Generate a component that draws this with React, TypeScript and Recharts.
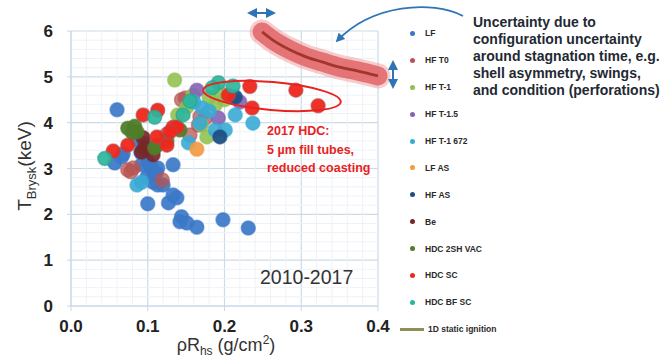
import React from 'react';
import {
  ComposedChart, Scatter, Line, XAxis, YAxis, CartesianGrid, ReferenceLine,
} from 'recharts';

// shot data (x = rho R_hs in g/cm2, y = T_Brysk in keV)
const lfX = [0.060, 0.057, 0.066, 0.068, 0.092, 0.100, 0.106, 0.113, 0.099, 0.107, 0.113, 0.120, 0.133, 0.100, 0.127, 0.133, 0.138, 0.144, 0.142, 0.151, 0.164, 0.198, 0.231, 0.091, 0.095, 0.086, 0.104, 0.111];
const lfY = [4.28, 3.12, 3.25, 3.32, 3.08, 3.14, 2.97, 3.01, 2.81, 2.70, 2.64, 2.64, 3.08, 2.23, 2.25, 2.42, 2.36, 1.95, 1.84, 1.81, 1.72, 1.88, 1.70, 3.35, 3.55, 3.62, 3.05, 2.90];

const hfT0X = [0.074, 0.081, 0.119, 0.149, 0.144, 0.168, 0.166, 0.155, 0.175, 0.125, 0.078];
const hfT0Y = [2.97, 3.01, 2.75, 4.54, 4.50, 4.13, 3.95, 3.73, 4.10, 3.75, 2.93];

const hfT1X = [0.135, 0.159, 0.194, 0.188, 0.177, 0.139, 0.151, 0.170, 0.180, 0.200];
const hfT1Y = [4.93, 4.60, 4.65, 4.39, 3.69, 4.17, 4.34, 3.95, 4.55, 4.50];

const hfT15X = [0.164, 0.192, 0.220];
const hfT15Y = [4.71, 4.10, 4.45];

const hf672X = [0.171, 0.214, 0.237, 0.168, 0.188, 0.201, 0.153, 0.086, 0.092, 0.160, 0.180];
const hf672Y = [4.32, 4.17, 3.99, 3.99, 3.84, 3.84, 3.56, 2.64, 2.70, 4.45, 4.25];

const lfAsX = [0.164];
const lfAsY = [3.42];

const hfAsX = [0.194, 0.214];
const hfAsY = [3.69, 4.56];

const beX = [0.094, 0.096, 0.107, 0.092];
const beY = [3.67, 3.45, 3.30, 3.36];

const hdc2shX = [0.074, 0.083, 0.086, 0.080, 0.112, 0.109, 0.142, 0.125];
const hdc2shY = [3.88, 3.92, 3.80, 3.78, 3.51, 3.45, 3.84, 3.60];

const hdcScX = [0.205, 0.233, 0.236, 0.293, 0.322, 0.055, 0.074, 0.094, 0.113, 0.112, 0.125, 0.133, 0.138, 0.129];
const hdcScY = [4.60, 4.79, 4.32, 4.71, 4.37, 3.38, 3.51, 4.17, 4.27, 3.69, 3.51, 3.90, 3.90, 3.80];

const hdcBfX = [0.044, 0.109, 0.146, 0.155, 0.192, 0.211, 0.184];
const hdcBfY = [3.22, 4.12, 4.17, 4.47, 4.87, 4.80, 4.76];

// 1D static ignition curve
const ignitionX = [0.249, 0.263, 0.285, 0.307, 0.328, 0.35, 0.373, 0.4];
const ignitionY = [5.98, 5.80, 5.59, 5.43, 5.32, 5.21, 5.13, 5.02];

const xTicks = [0, 0.1, 0.2, 0.3, 0.4];
const yTicks = [0, 1, 2, 3, 4, 5, 6];

const zip = (xs: number[], ys: number[]) => xs.map((x, i) => ({ x, y: ys[i] }));

interface SeriesDef {
  name: string;
  data: { x: number; y: number }[];
  fill: string;
  ring: string;
  opacity: number;
}

const series: SeriesDef[] = [
  { name: 'LF', data: zip(lfX, lfY), fill: '#3b78c8', ring: '#3b78c8', opacity: 0.92 },
  { name: 'HF T0', data: zip(hfT0X, hfT0Y), fill: '#b75452', ring: '#b75452', opacity: 0.75 },
  { name: 'HF T-1', data: zip(hfT1X, hfT1Y), fill: '#8fc04e', ring: '#8fc04e', opacity: 0.88 },
  { name: 'HF T-1.5', data: zip(hfT15X, hfT15Y), fill: '#8462b4', ring: '#8462b4', opacity: 0.9 },
  { name: 'HF T-1 672', data: zip(hf672X, hf672Y), fill: '#3aaad4', ring: '#3aaad4', opacity: 0.9 },
  { name: 'LF AS', data: zip(lfAsX, lfAsY), fill: '#f29a42', ring: '#f29a42', opacity: 0.92 },
  { name: 'HF AS', data: zip(hfAsX, hfAsY), fill: '#1d4f85', ring: '#1d4f85', opacity: 0.95 },
  { name: 'Be', data: zip(beX, beY), fill: '#7a2626', ring: '#7a2626', opacity: 0.92 },
  { name: 'HDC 2SH VAC', data: zip(hdc2shX, hdc2shY), fill: '#4f7d2a', ring: '#4f7d2a', opacity: 0.95 },
  { name: 'HDC SC', data: zip(hdcScX, hdcScY), fill: '#f0261c', ring: '#b44a46', opacity: 0.95 },
  { name: 'HDC BF SC', data: zip(hdcBfX, hdcBfY), fill: '#2db59c', ring: '#2a9f8c', opacity: 0.92 },
];

const ignition = zip(ignitionX, ignitionY);

const minorX = Array.from({ length: 21 }, (_, i) => +(i * 0.02).toFixed(2)).filter((v) => !xTicks.includes(v));
const minorY = Array.from({ length: 31 }, (_, i) => +(i * 0.2).toFixed(1)).filter((v) => !yTicks.includes(v));

const FONT = '"Liberation Sans", Arial, sans-serif';
const AXIS_BLUE = '#c6d8ea';

const YLabel = () => (
  <text x={31} y={166} transform="rotate(-90 31 166)" textAnchor="middle" fill="#333" fontFamily={FONT} fontSize={19}>
    T<tspan fontSize={13} dy={5}>Brysk</tspan><tspan dy={-5}>(keV)</tspan>
  </text>
);

const XLabel = () => (
  <text x={226} y={351} textAnchor="middle" fill="#333" fontFamily={FONT} fontSize={18}>
    ρR<tspan fontSize={12} dy={4}>hs</tspan><tspan dy={-4}> (g/cm</tspan><tspan fontSize={12} dy={-7}>2</tspan><tspan dy={7}>)</tspan>
  </text>
);

const LegendBox = () => (
  <div style={{ position: 'absolute', left: 404, top: 20, fontFamily: FONT, fontSize: 8.5, fontWeight: 700, color: '#2a2a2a' }}>
    {series.map((s) => (
      <div key={s.name} style={{ display: 'flex', alignItems: 'center', height: 26.9 }}>
        <span style={{ width: 5, height: 5, borderRadius: 3, background: s.fill, marginLeft: 6, marginRight: 10 }} />
        <span>{s.name}</span>
      </div>
    ))}
    <div style={{ display: 'flex', alignItems: 'center', height: 26.9 }}>
      <span style={{ width: 24, height: 3, background: '#8f8f55', marginLeft: -4, marginRight: 4 }} />
      <span>1D static ignition</span>
    </div>
  </div>
);

const Annotations = () => (
  <svg width={670} height={360} style={{ position: 'absolute', left: 0, top: 0, pointerEvents: 'none' }}>
    <defs>
      <marker id="ah" viewBox="0 0 10 10" refX="8" refY="5" markerWidth="5" markerHeight="5" orient="auto-start-reverse">
        <path d="M0,0 L10,5 L0,10 z" fill="#2f74b5" />
      </marker>
    </defs>
    <ellipse cx={272} cy={96} rx={69} ry={14} fill="none" stroke="#e8221f" strokeWidth={2} transform="rotate(5 272 96)" />
    <line x1={249} y1={13} x2={274} y2={13} stroke="#2f74b5" strokeWidth={2} markerStart="url(#ah)" markerEnd="url(#ah)" />
    <line x1={393} y1={62} x2={393} y2={87} stroke="#2f74b5" strokeWidth={2} markerStart="url(#ah)" markerEnd="url(#ah)" />
    <path d="M463,16 C432,0 372,4 337,41" fill="none" stroke="#2f74b5" strokeWidth={1.8} markerEnd="url(#ah)" />
    <text fontFamily={FONT} fontWeight={700} fontSize={12.5} fill="#e8221f">
      <tspan x={267} y={135}>2017 HDC:</tspan>
      <tspan x={267} y={154}>5 µm fill tubes,</tspan>
      <tspan x={267} y={172}>reduced coasting</tspan>
    </text>
    <text x={260} y={284} fontFamily={FONT} fontSize={19.5} fill="#333">2010-2017</text>
    <text fontFamily={FONT} fontWeight={700} fontSize={14} fill="#1f2933">
      <tspan x={473} y={27}>Uncertainty due to</tspan>
      <tspan x={473} y={44}>configuration uncertainty</tspan>
      <tspan x={473} y={61}>around stagnation time, e.g.</tspan>
      <tspan x={473} y={78}>shell asymmetry, swings,</tspan>
      <tspan x={473} y={95}>and condition (perforations)</tspan>
    </text>
  </svg>
);

export default function App() {
  return (
    <div style={{ position: 'relative', width: 670, height: 360, background: '#fff' }}>
      <style>{'body{margin:0}'}</style>
      <ComposedChart width={670} height={360} margin={{ top: 31, right: 292, bottom: 0, left: 0 }}>
        <CartesianGrid stroke="#ccdbe8" strokeWidth={1.2} />
        {minorX.map((v) => (
          <ReferenceLine key={'mx' + v} x={v} stroke="#eef2f7" strokeWidth={1} />
        ))}
        {minorY.map((v) => (
          <ReferenceLine key={'my' + v} y={v} stroke="#eef2f7" strokeWidth={1} />
        ))}
        <XAxis
          type="number"
          dataKey="x"
          domain={[0, 0.4]}
          ticks={xTicks}
          tickFormatter={(v: number) => v.toFixed(1)}
          axisLine={{ stroke: AXIS_BLUE }}
          tickLine={{ stroke: AXIS_BLUE }}
          tickSize={5}
          tickMargin={9}
          height={54}
          tick={{ fill: '#222', fontSize: 17, fontWeight: 700, fontFamily: FONT }}
          label={<XLabel />}
        />
        <YAxis
          type="number"
          dataKey="y"
          domain={[0, 6]}
          ticks={yTicks}
          axisLine={{ stroke: AXIS_BLUE }}
          tickLine={{ stroke: AXIS_BLUE }}
          tickSize={4}
          tickMargin={14}
          width={71}
          tick={{ fill: '#222', fontSize: 17, fontWeight: 700, fontFamily: FONT }}
          label={<YLabel />}
        />
        {series.map((s) => (
          <Scatter
            key={s.name}
            name={s.name}
            data={s.data}
            isAnimationActive={false}
            shape={(p: any) => (
              <circle cx={p.cx} cy={p.cy} r={7} fill={s.fill} fillOpacity={s.opacity} stroke={s.ring} strokeOpacity={0.6} strokeWidth={1.5} />
            )}
          />
        ))}
        <Line data={ignition} dataKey="y" type="monotone" stroke="#ee9a9a" strokeOpacity={0.5} strokeWidth={25} strokeLinecap="round" dot={false} isAnimationActive={false} />
        <Line data={ignition} dataKey="y" type="monotone" stroke="#e06466" strokeOpacity={0.85} strokeWidth={19} strokeLinecap="round" dot={false} isAnimationActive={false} />
        <Line data={ignition} dataKey="y" type="monotone" stroke="#a3362a" strokeWidth={2.8} dot={false} isAnimationActive={false} name="1D static ignition" />
      </ComposedChart>
      <LegendBox />
      <Annotations />
    </div>
  );
}
